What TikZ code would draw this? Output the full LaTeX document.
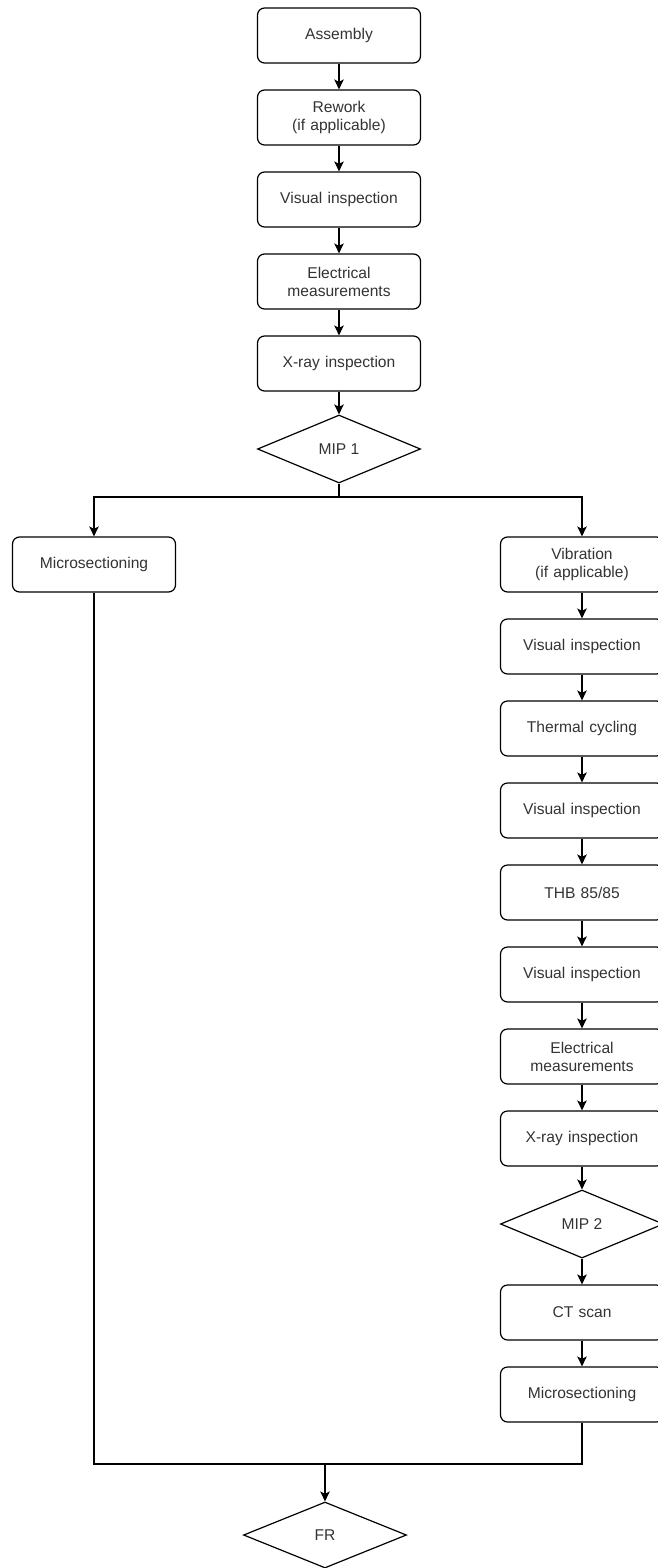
\documentclass[tikz,border=0pt]{standalone}
\usepackage{fontspec}
\setmainfont{Liberation Sans}
\usetikzlibrary{positioning,shapes.geometric,arrows.meta}

\begin{document}
\begin{tikzpicture}[
  x=1pt, y=-1pt,
  node distance=25.8pt,
  font=\fontsize{15.6}{18}\selectfont,
  block/.style={
    draw,
    rounded corners=7pt,
    align=center,
    minimum width=163pt,
    minimum height=55pt,
    text width=150pt,
    inner sep=0pt,
    line width=1.2pt,
    text=black!80
  },
  decision/.style={
    draw,
    diamond,
    aspect=2.4,
    minimum width=163pt,
    minimum height=68pt,
    inner sep=0pt,
    line width=1.2pt,
    text=black!80
  },
  arrow/.style={-{Stealth[length=10pt,width=9.5pt,inset=2.5pt]}, line width=1.2pt},
  line/.style={line width=1.2pt}
]
\useasboundingbox (0,0) rectangle (657,1568);
% main column
\node[block] (assembly) at (339,35.5) {Assembly};
\node[block, below=of assembly] (rework) {Rework\\(if applicable)};
\node[block, below=of rework] (visual1) {Visual inspection};
\node[block, below=of visual1] (elec1) {Electrical\\measurements};
\node[block, below=of elec1] (xray1) {X-ray inspection};
\node[decision, below=22.8pt of xray1] (mip1) {MIP 1};
\coordinate (split) at (339,497);
% left branch
\node[block] (micro1) at (94,564.5) {Microsectioning};
% right branch
\node[block] (vib) at (582,564.5) {Vibration\\(if applicable)};
\node[block, below=of vib] (visual2) {Visual inspection};
\node[block, below=of visual2] (thermal) {Thermal cycling};
\node[block, below=of thermal] (visual3) {Visual inspection};
\node[block, below=of visual3] (thb) {THB 85/85};
\node[block, below=of thb] (visual4) {Visual inspection};
\node[block, below=of visual4] (elec2) {Electrical\\measurements};
\node[block, below=of elec2] (xray2) {X-ray inspection};
\node[decision, below=22.8pt of xray2] (mip2) {MIP 2};
\node[block, below=of mip2] (ct) {CT scan};
\node[block, below=of ct] (micro2) {Microsectioning};
% merge
\coordinate (merge) at (325,1464);
\node[decision, minimum height=66pt] (fr) at (325,1535) {FR};

\draw[arrow] (assembly) -- (rework);
\draw[arrow] (rework) -- (visual1);
\draw[arrow] (visual1) -- (elec1);
\draw[arrow] (elec1) -- (xray1);
\draw[arrow] (xray1) -- (mip1);
\draw[line] (mip1) -- (split);
\draw[arrow] (split) -| (micro1);
\draw[arrow] (split) -| (vib);
\draw[arrow] (vib) -- (visual2);
\draw[arrow] (visual2) -- (thermal);
\draw[arrow] (thermal) -- (visual3);
\draw[arrow] (visual3) -- (thb);
\draw[arrow] (thb) -- (visual4);
\draw[arrow] (visual4) -- (elec2);
\draw[arrow] (elec2) -- (xray2);
\draw[arrow] (xray2) -- (mip2);
\draw[arrow] (mip2) -- (ct);
\draw[arrow] (ct) -- (micro2);
\draw[line] (micro1) |- (merge);
\draw[line] (micro2) |- (merge);
\draw[arrow] (merge) -- (fr);
\end{tikzpicture}
\end{document}
